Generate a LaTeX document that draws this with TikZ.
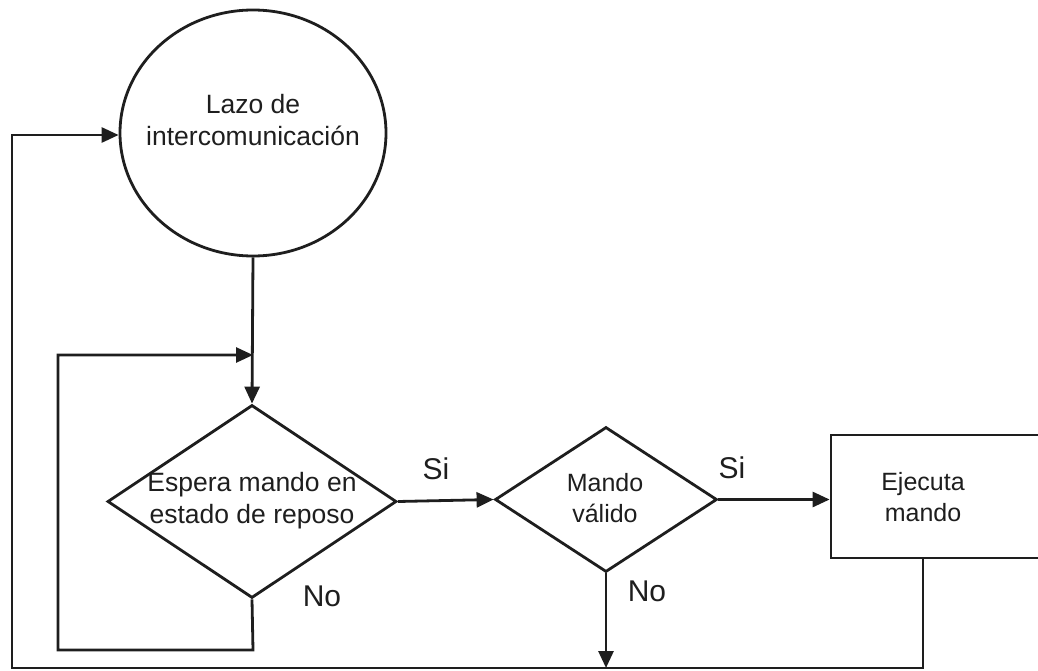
\documentclass[tikz,border=0pt]{standalone}
\usepackage{fontspec}
\setmainfont{Liberation Sans}
\usetikzlibrary{shapes.geometric,arrows.meta}
\definecolor{ink}{HTML}{1E1E1E}
\begin{document}
\begin{tikzpicture}[x=1pt,y=-1pt,
  conn/.style={draw=ink,line width=2.8pt,line join=miter},
  shapeline/.style={draw=ink,line width=2.8pt,inner sep=0pt},
  body/.style={text=ink,font=\fontsize{26.5}{32}\selectfont,align=center,inner sep=0pt},
  small/.style={text=ink,font=\fontsize{25}{31}\selectfont,align=center,inner sep=0pt},
  answer/.style={text=ink,font=\fontsize{30}{34}\selectfont,inner sep=0pt},
  arr/.style={conn,-{Triangle[length=17pt,width=15pt]}}]
\useasboundingbox (0,0) rectangle (1038,671);

% start circle
\node[shapeline,ellipse,minimum width=266pt,minimum height=246pt] (lazo) at (253,133) {};
\node[body] (lazotxt) at (253,120) {Lazo de\\intercomunicación};

% first decision
\node[shapeline,diamond,minimum width=289pt,minimum height=193pt] (espera) at (252,501.5) {};
\node[body] (esperatxt) at (252,501) {Espera mando en\\estado de reposo};

% second decision
\node[shapeline,diamond,minimum width=222pt,minimum height=145pt] (valido) at (606,499.5) {};
\node[small] (validotxt) at (605,498) {Mando\\válido};

% action box (runs past the right edge)
\node[shapeline,rectangle,minimum width=229pt,minimum height=123pt] (ejecuta) at (945.5,496.5) {};
\node[small] (ejecutatxt) at (923,497) {Ejecuta\\mando};

% junction points
\coordinate (merge) at (253,355);
\coordinate (loopR) at (253,650);
\coordinate (loopL) at (58,650);
\coordinate (loopT) at (58,355);
\coordinate (bottomR) at (923,668);
\coordinate (bottomL) at (12,668);
\coordinate (backT) at (12,135);
\coordinate (join) at (606,668);

% connectors
\draw[arr] (lazo.south) -- (espera.north);
\draw[arr] (espera.south) -- (loopR) -- (loopL) -- (loopT) -- (merge);
\draw[arr] (espera.east) -- (valido.west);
\draw[arr] (valido.east) -- (valido.east -| ejecuta.west);
\draw[arr] (valido.south) -- (join);
\draw[arr] (ejecutatxt |- ejecuta.south) -- (bottomR) -- (bottomL) -- (backT) -- (backT -| lazo.west);

% branch labels
\node[answer] (si1) at (436,469) {Si};
\node[answer] (no1) at (322,596) {No};
\node[answer] (si2) at (732,468) {Si};
\node[answer] (no2) at (647,591) {No};
\end{tikzpicture}
\end{document}
